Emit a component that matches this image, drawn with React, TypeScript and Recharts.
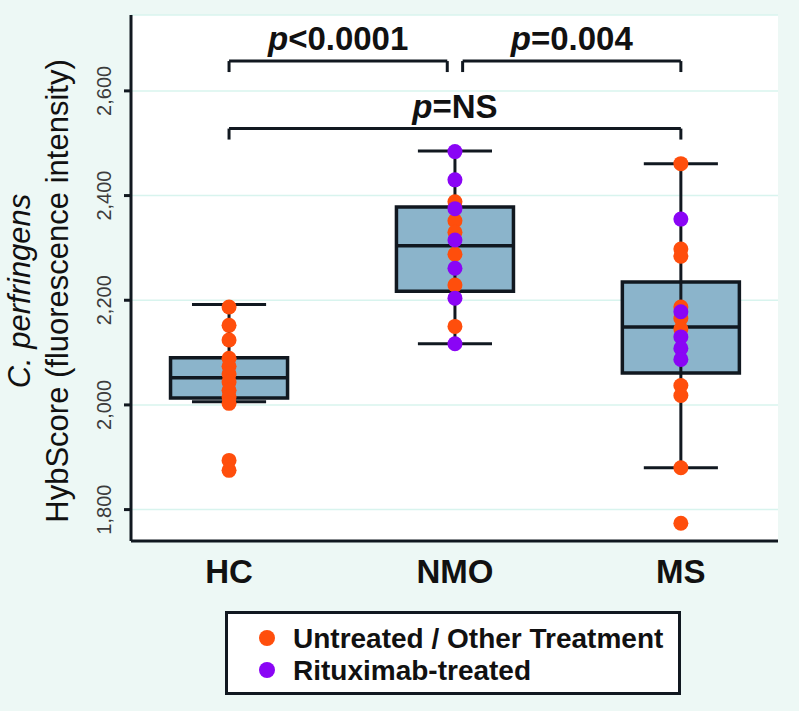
import React from "react";
import {
  ComposedChart,
  XAxis,
  YAxis,
  CartesianGrid,
  Scatter,
  ReferenceArea,
  ReferenceLine,
} from "recharts";

// groups and box stats
const groups = ["HC", "NMO", "MS"];
const groupX = [1, 2, 3];
const whiskerLow = [2006, 2117, 1880];
const q1 = [2013, 2217, 2061];
const median = [2052, 2304, 2149];
const q3 = [2090, 2378, 2235];
const whiskerHigh = [2192, 2485, 2461];

// individual subjects
const hcUntreated = [2187, 2152, 2124, 2089, 2074, 2059, 2044, 2028, 2015, 2003, 1894, 1875];
const nmoUntreated = [2388, 2352, 2330, 2288, 2229, 2150];
const nmoRituximab = [2484, 2430, 2375, 2315, 2261, 2204, 2117];
const msUntreated = [2461, 2298, 2284, 2187, 2165, 2145, 2037, 2018, 1880, 1774];
const msRituximab = [2355, 2178, 2130, 2108, 2087];

const yTicks = [1800, 2000, 2200, 2400, 2600];

// significance brackets: group index pairs, p text
const comparisons = [
  { a: 0, b: 1, p: "<0.0001", level: 2657 },
  { a: 1, b: 2, p: "=0.004", level: 2657 },
  { a: 0, b: 2, p: "=NS", level: 2528 },
];

const ORANGE = "#ff4e0c";
const PURPLE = "#8a05f5";
const BOX_FILL = "#8bb4cb";
const INK = "#111820";
const BG = "#edf8f5";
const FONT = "'Liberation Sans', Arial, sans-serif";

const BOX_HALF = 0.259;
const CAP_HALF = 0.164;
const BRACKET_GAP = 0.034;
const BRACKET_DROP = 21;

const toPoints = (vals: number[], gi: number) =>
  vals.map((v) => ({ x: groupX[gi], y: v }));

const untreated = [
  ...toPoints(hcUntreated, 0),
  ...toPoints(nmoUntreated, 1),
  ...toPoints(msUntreated, 2),
];
const rituximab = [...toPoints(nmoRituximab, 1), ...toPoints(msRituximab, 2)];

const dot = (color: string) => (props: any) => (
  <circle cx={props.cx} cy={props.cy} r={7.5} fill={color} />
);

const YTick = (props: any) => {
  const { x, y, payload } = props;
  const tx = x - 11;
  return (
    <text
      x={tx}
      y={y}
      transform={`rotate(-90, ${tx}, ${y})`}
      textAnchor="middle"
      fontFamily={FONT}
      fontSize={20}
      fill="#3c3c3c"
    >
      {payload.value.toLocaleString("en-US")}
    </text>
  );
};

const XTick = (props: any) => {
  const { x, y, payload } = props;
  return (
    <text
      x={x}
      y={y + 34}
      textAnchor="middle"
      fontFamily={FONT}
      fontSize={33}
      fontWeight="bold"
      fill="#111"
    >
      {groups[payload.value - 1]}
    </text>
  );
};

const YLabel = (props: any) => {
  const cy = 291;
  return (
    <g fontFamily={FONT} fontSize={31} fill="#111">
      <text x={30} y={cy} transform={`rotate(-90, 30, ${cy})`} textAnchor="middle" fontStyle="italic">
        C. perfringens
      </text>
      <text x={68} y={cy} transform={`rotate(-90, 68, ${cy})`} textAnchor="middle">
        HybScore (fluorescence intensity)
      </text>
    </g>
  );
};

const PLabel = (text: string) => (props: any) => {
  const vb = props.viewBox || {};
  const cx = vb.x + vb.width / 2;
  return (
    <text
      x={cx}
      y={vb.y - 11}
      textAnchor="middle"
      fontFamily={FONT}
      fontSize={33}
      fontWeight="bold"
      fill="#111"
    >
      <tspan fontStyle="italic">p</tspan>
      <tspan>{text}</tspan>
    </text>
  );
};

export default function App() {
  return (
    <div
      style={{
        position: "absolute",
        left: 0,
        top: 0,
        width: 799,
        height: 711,
        background: BG,
      }}
    >
      <ComposedChart
        width={799}
        height={711}
        margin={{ top: 15, right: 21, bottom: 120, left: 0 }}
      >
        <CartesianGrid vertical={false} fill="#ffffff" stroke="#d8f4ee" strokeWidth={1.5} />
        <XAxis
          type="number"
          dataKey="x"
          domain={[0.566, 3.43]}
          ticks={groupX}
          allowDataOverflow
          height={50}
          tickLine={false}
          axisLine={{ stroke: INK, strokeWidth: 3 }}
          tick={<XTick />}
        />
        <YAxis
          type="number"
          dataKey="y"
          domain={[1740, 2745]}
          ticks={yTicks}
          allowDataOverflow
          width={131}
          tickSize={7}
          tickLine={{ stroke: INK, strokeWidth: 3 }}
          axisLine={{ stroke: INK, strokeWidth: 3 }}
          tick={<YTick />}
          label={{ content: YLabel }}
        />

        {groupX.map((gx, i) => (
          <ReferenceLine
            key={`w-${i}`}
            segment={[
              { x: gx, y: whiskerLow[i] },
              { x: gx, y: whiskerHigh[i] },
            ]}
            stroke={INK}
            strokeWidth={3}
          />
        ))}
        {groupX.map((gx, i) => (
          <ReferenceArea
            key={`b-${i}`}
            x1={gx - BOX_HALF}
            x2={gx + BOX_HALF}
            y1={q1[i]}
            y2={q3[i]}
            fill={BOX_FILL}
            fillOpacity={1}
            stroke={INK}
            strokeWidth={3.5}
          />
        ))}
        {groupX.map((gx, i) => (
          <ReferenceLine
            key={`m-${i}`}
            segment={[
              { x: gx - BOX_HALF, y: median[i] },
              { x: gx + BOX_HALF, y: median[i] },
            ]}
            stroke={INK}
            strokeWidth={3.5}
          />
        ))}
        {groupX.map((gx, i) => (
          <ReferenceLine
            key={`hi-${i}`}
            segment={[
              { x: gx - CAP_HALF, y: whiskerHigh[i] },
              { x: gx + CAP_HALF, y: whiskerHigh[i] },
            ]}
            stroke={INK}
            strokeWidth={3}
          />
        ))}
        {groupX.map((gx, i) => (
          <ReferenceLine
            key={`lo-${i}`}
            segment={[
              { x: gx - CAP_HALF, y: whiskerLow[i] },
              { x: gx + CAP_HALF, y: whiskerLow[i] },
            ]}
            stroke={INK}
            strokeWidth={3}
          />
        ))}

        {comparisons.map((c, i) => {
          const adjacent = c.b - c.a === 1;
          const xa = groupX[c.a] + (adjacent && c.a > 0 ? BRACKET_GAP : 0);
          const xb = groupX[c.b] - (adjacent && c.b < 2 ? BRACKET_GAP : 0);
          return (
            <React.Fragment key={`c-${i}`}>
              <ReferenceLine
                segment={[
                  { x: xa, y: c.level },
                  { x: xb, y: c.level },
                ]}
                stroke={INK}
                strokeWidth={3}
                label={{ content: PLabel(c.p) }}
              />
              <ReferenceLine
                segment={[
                  { x: xa, y: c.level },
                  { x: xa, y: c.level - BRACKET_DROP },
                ]}
                stroke={INK}
                strokeWidth={3}
              />
              <ReferenceLine
                segment={[
                  { x: xb, y: c.level },
                  { x: xb, y: c.level - BRACKET_DROP },
                ]}
                stroke={INK}
                strokeWidth={3}
              />
            </React.Fragment>
          );
        })}

        <Scatter
          name="Untreated / Other Treatment"
          data={untreated}
          fill={ORANGE}
          shape={dot(ORANGE)}
          isAnimationActive={false}
        />
        <Scatter
          name="Rituximab-treated"
          data={rituximab}
          fill={PURPLE}
          shape={dot(PURPLE)}
          isAnimationActive={false}
        />
      </ComposedChart>

      <svg
        width={456}
        height={84}
        style={{ position: "absolute", left: 225, top: 611 }}
      >
        <rect x={1.5} y={1.5} width={453} height={81} fill="#fff" stroke={INK} strokeWidth={3} />
        <circle cx={42} cy={27} r={8} fill={ORANGE} />
        <circle cx={42} cy={59} r={8} fill={PURPLE} />
        <g fontFamily={FONT} fontSize={28} fontWeight="bold" fill="#111">
          <text x={68} y={37}>Untreated / Other Treatment</text>
          <text x={68} y={68.5}>Rituximab-treated</text>
        </g>
      </svg>
    </div>
  );
}
